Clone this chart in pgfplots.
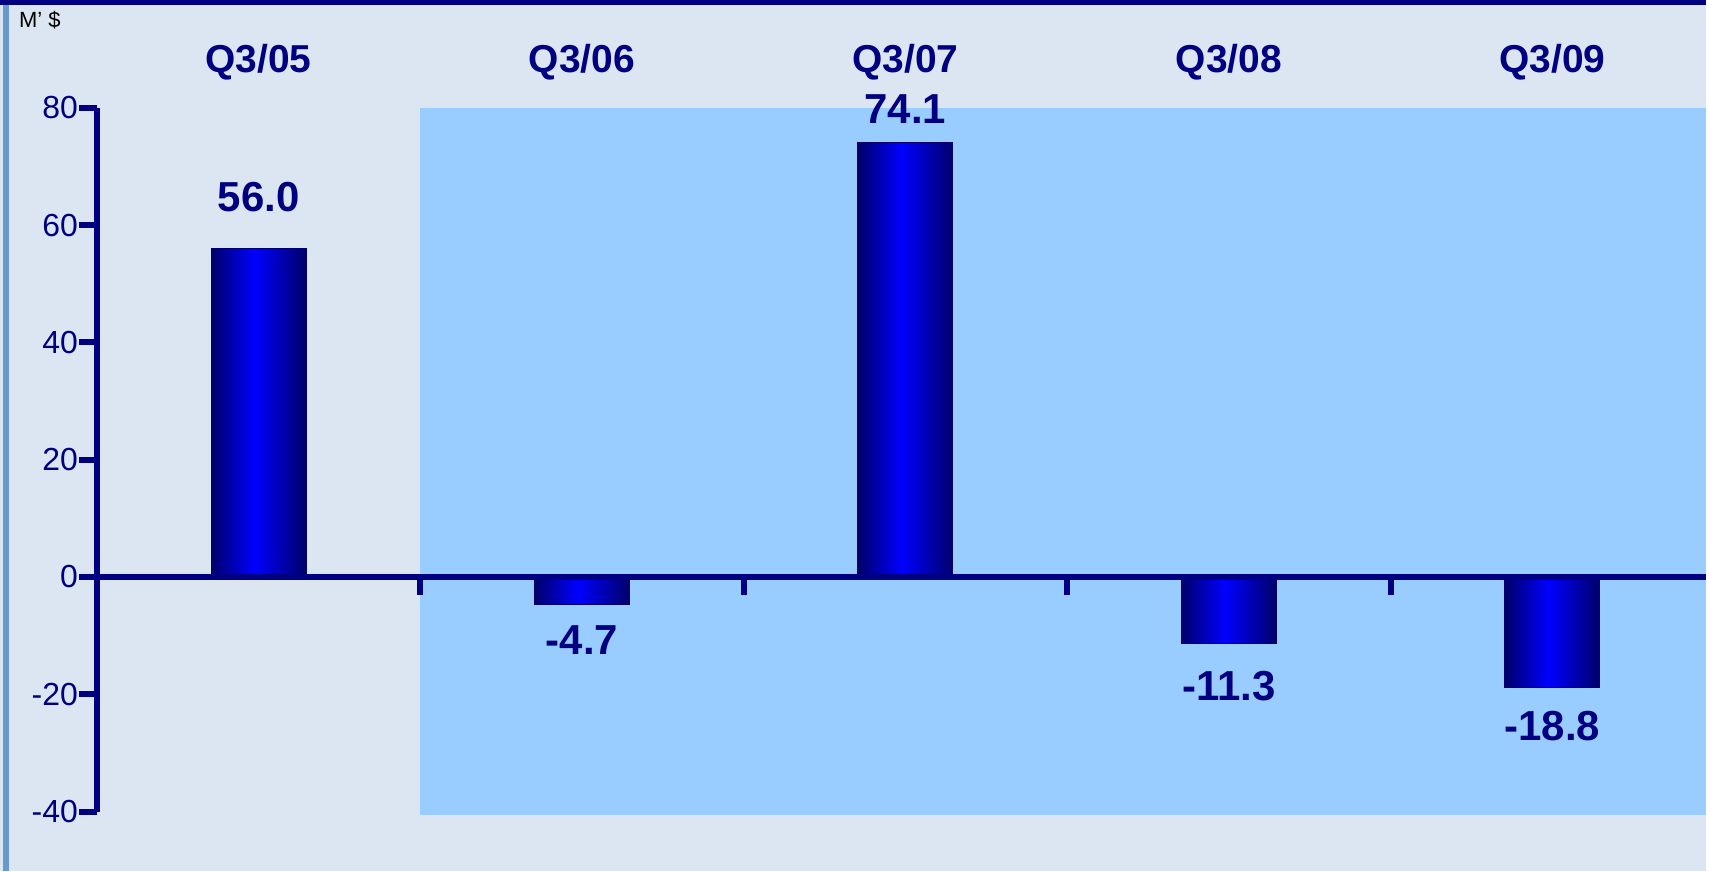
\documentclass[border=0pt]{standalone}
\usepackage{pgfplots}
\pgfplotsset{compat=1.18}
\usepackage{fontspec}
\setmainfont{Liberation Sans}

\definecolor{navy}{HTML}{000080}
\definecolor{bgcol}{HTML}{DCE6F2}
\definecolor{shadecol}{HTML}{99CCFF}
\definecolor{stripcol}{HTML}{6699CC}
\definecolor{bardark}{HTML}{00006A}
\definecolor{barmid}{HTML}{0000FF}
\pgfdeclarehorizontalshading{barshade}{100bp}{color(0bp)=(bardark); color(25bp)=(bardark); color(48bp)=(barmid); color(75bp)=(bardark); color(100bp)=(bardark)}

\pgfplotsset{
  qbar/.style={ybar, bar width=47.5pt, bar shift=0pt, draw=bardark, line width=0.6pt, shade, shading=barshade},
}
\tikzset{
  vlabel/.style={font=\bfseries\fontsize{21}{24}\selectfont, text=navy},
  qlabel/.style={font=\bfseries\fontsize{19.5}{22}\selectfont, text=navy},
}

\begin{document}
\begin{tikzpicture}
% page background, top rule and left strip
\fill[bgcol] (0,0) rectangle (854.5pt,436.5pt);
\fill[navy] (0,434pt) rectangle (854.5pt,436.5pt);
\fill[stripcol] (1.5pt,0) rectangle (4.5pt,434pt);
\node[anchor=west, font=\fontsize{11}{12}\selectfont] at (6pt,426.5pt) {M' \$};

\begin{axis}[
  at={(48.5pt,30pt)}, anchor=south west,
  width=806pt, height=352.5pt, scale only axis,
  xmin=-0.5, xmax=4.475, ymin=-40, ymax=80,
  axis y line=left, axis x line=middle,
  axis line style={-, line width=3pt, navy},
  every inner x axis line/.append style={line width=3pt},
  every outer y axis line/.append style={line width=3pt},
  axis on top,
  xtick={0.5,1.5,2.5,3.5}, xticklabels={},
  ytick={-40,-20,0,20,40,60,80},
  tick align=outside, major tick length=9pt,
  major tick style={line width=3pt, navy},
  yticklabel style={font=\fontsize{16}{18}\selectfont, text=navy, xshift=3pt},
  /pgf/number format/assume math mode=true,
  clip=false,
]
% shaded forecast band
\addplot[fill=shadecol, draw=none] coordinates {(0.5,-40.6) (4.475,-40.6) (4.475,80) (0.5,80)} --cycle;

\addplot[qbar] coordinates {(0,56.0)};
\addplot[qbar] coordinates {(1,-4.7)};
\addplot[qbar] coordinates {(2,74.1)};
\addplot[qbar] coordinates {(3,-11.3)};
\addplot[qbar] coordinates {(4,-18.8)};

\node[vlabel] at (axis cs:0,64.7) {56.0};
\node[vlabel] at (axis cs:1,-10.7) {-4.7};
\node[vlabel] at (axis cs:2,79.8) {74.1};
\node[vlabel] at (axis cs:3,-18.6) {-11.3};
\node[vlabel] at (axis cs:4,-25.4) {-18.8};

\node[qlabel] at (axis cs:0,87.8) {Q3/05};
\node[qlabel] at (axis cs:1,87.8) {Q3/06};
\node[qlabel] at (axis cs:2,87.8) {Q3/07};
\node[qlabel] at (axis cs:3,87.8) {Q3/08};
\node[qlabel] at (axis cs:4,87.8) {Q3/09};
\end{axis}
\end{tikzpicture}
\end{document}
